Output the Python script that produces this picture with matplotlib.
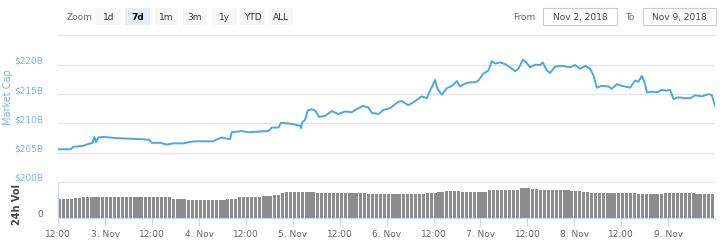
import matplotlib
matplotlib.use("Agg")
import matplotlib.pyplot as plt
from matplotlib.patches import Rectangle

plt.rcParams['font.family'] = ['DejaVu Sans']

# ---- data (hours since Nov 2, 12:00) ----
mc_hours = [0, 3.17, 3.84, 6.40, 7.68, 8.80, 9.21, 9.65, 10.24, 11.52, 14.94, 18.35, 21.75, 23.29,
            23.90, 26.02, 27.74, 29.43, 31.99, 34.55, 37.98, 39.67, 40.94, 41.81, 43.94, 44.37,
            46.93, 48.62, 51.18, 53.74, 54.61, 56.30, 56.99, 58.86, 60.57, 61.85, 62.11, 62.44,
            63.13, 63.82, 64.84, 65.69, 66.71, 68.25, 69.96, 71.65, 73.37, 75.08, 76.36, 78.05,
            79.33, 80.20, 81.89, 83.17, 84.88, 87.01, 87.88, 89.57, 90.84, 92.12, 92.99, 94.27,
            95.12, 96.40, 96.99, 98.11, 99.39, 100.67, 101.95, 102.79, 104.07, 105.35, 106.63,
            107.48, 108.76, 110.04, 110.91, 111.75, 113.03, 114.31, 115.59, 116.87, 117.71,
            118.84, 119.86, 120.71, 121.99, 123.27, 123.96, 124.98, 125.82, 127.10, 128.81,
            130.94, 132.22, 133.50, 134.78, 136.06, 136.90, 137.77, 139.05, 140.74, 141.61,
            142.89, 144.17, 146.29, 147.57, 148.42, 149.29, 150.13, 150.57, 151.85, 153.13,
            154.41, 155.69, 156.53, 157.38, 158.65, 160.37, 161.65, 162.93, 164.64, 166.33,
            167.20, 168.0]
mc_values = [205.6, 205.6, 206.0, 206.2, 206.5, 206.7, 207.7, 206.8, 207.6, 207.7, 207.5, 207.4,
             207.3, 207.2, 206.7, 206.7, 206.4, 206.6, 206.6, 206.95, 206.95, 206.95, 207.4,
             207.6, 207.3, 208.5, 208.7, 208.5, 208.6, 208.7, 209.3, 209.3, 210.1, 210.0, 209.8,
             209.6, 209.2, 210.2, 210.6, 212.2, 212.4, 212.2, 211.1, 211.3, 212.1, 211.6, 212.05,
             211.9, 212.45, 213.0, 212.7, 211.8, 211.6, 212.3, 212.6, 213.7, 213.8, 213.1, 213.6,
             214.2, 214.6, 214.3, 215.6, 217.4, 215.9, 214.9, 216.0, 216.4, 217.2, 216.3, 216.8,
             217.0, 217.0, 217.3, 218.5, 219.0, 220.6, 220.2, 220.4, 220.1, 219.55, 218.9, 219.3,
             220.85, 220.3, 219.55, 220.0, 219.95, 220.4, 219.0, 218.6, 219.7, 219.8, 219.55,
             219.95, 219.3, 219.8, 219.3, 218.2, 216.1, 216.4, 216.3, 215.9, 216.7, 216.4, 216.1,
             217.3, 217.1, 218.1, 216.7, 215.3, 215.4, 215.3, 215.7, 215.6, 215.7, 214.15,
             214.45, 214.3, 214.3, 214.8, 214.6, 215.0, 214.8, 213.0]

# 24h volume (billions), hourly bars
vol_day1 = [105, 105, 105, 105, 111, 111, 116, 116, 116, 116, 117, 117, 116, 116, 116, 116, 116, 116, 116, 116, 115, 115, 115, 115]
vol_day2 = [115, 115, 115, 115, 114, 105, 105, 105, 105, 102, 102, 102, 102, 102, 102, 102, 102, 102, 102, 107, 107, 107, 115, 115]
vol_day3 = [115, 115, 118, 118, 120, 121, 122, 127, 127, 140, 142, 142, 142, 142, 142, 142, 141, 141, 140, 139, 139, 137, 137, 137]
vol_day4 = [138, 138, 138, 138, 138, 138, 137, 134, 134, 131, 131, 131, 131, 131, 131, 131, 131, 131, 131, 131, 134, 134, 138, 138]
vol_day5 = [138, 142, 142, 147, 147, 147, 147, 145, 145, 145, 145, 145, 145, 145, 156, 156, 156, 156, 156, 156, 156, 156, 163, 163]
vol_day6 = [163, 162, 162, 153, 153, 153, 152, 152, 152, 152, 152, 151, 151, 151, 146, 146, 140, 140, 140, 140, 140, 140, 140, 140]
vol_day7 = [137, 137, 137, 137, 134, 134, 134, 134, 134, 134, 134, 137, 137, 137, 137, 137, 140, 140, 140, 134, 134, 134, 134, 134]
vol_values = vol_day1 + vol_day2 + vol_day3 + vol_day4 + vol_day5 + vol_day6 + vol_day7
vol_hours = list(range(len(vol_values)))

tick_hours = list(range(0, 157, 12))
tick_labels = ['12:00', '3. Nov', '12:00', '4. Nov', '12:00', '5. Nov', '12:00', '6. Nov',
               '12:00', '7. Nov', '12:00', '8. Nov', '12:00', '9. Nov']
mc_ticks = [205, 210, 215, 220]
mc_tick_labels = ['$205B', '$210B', '$215B', '$220B']

zoom_buttons = ['1d', '7d', '1m', '3m', '1y', 'YTD', 'ALL']
from_date = 'Nov 2, 2018'
to_date = 'Nov 9, 2018'

# ---- figure ----
W, H = 720, 253
fig = plt.figure(figsize=(W / 100, H / 100), dpi=100)
fig.patch.set_facecolor('white')

def fx(px):
    return px / W

def fy(py):
    return 1 - py / H

LINE = '#4aa8e4'
LBL_BLUE = '#7cb5ec'
GRID = '#e6e6e6'
AXBLUE = '#ccd6eb'
GRAYTXT = '#666666'

left_px, right_px = 58.3, 715.0
span = right_px - left_px
ax = fig.add_axes([fx(left_px), fy(160), fx(span), (160 - 45) / H])
ax.plot(mc_hours, mc_values, color=LINE, lw=1.4, solid_joinstyle='round')
ax.set_xlim(0, 168)
ax.set_ylim(203.94, 223.53)
ax.set_yticks(mc_ticks)
ax.set_yticklabels(mc_tick_labels)
ax.grid(axis='y', color=GRID, lw=1.0)
ax.set_axisbelow(True)
for s in ax.spines.values():
    s.set_visible(False)
ax.tick_params(axis='y', length=0, pad=11, labelsize=6.5, labelcolor=LBL_BLUE)
for t in ax.get_yticklabels():
    t.set_va('bottom')
ax.set_xticks([])
ax.set_ylabel('Market Cap', color=LBL_BLUE, fontsize=7)
ax.yaxis.label.set_va('center')
ax.yaxis.set_label_coords(-(left_px - 8) / span, 0.55)

axv = fig.add_axes([fx(left_px), fy(219.3), fx(span), 36.6 / H])
axv.bar(vol_hours, vol_values, width=0.78, align='edge', color='#8c8c8c', edgecolor='none')
axv.set_xlim(0, 168)
axv.set_ylim(0, 200)
axv.set_yticks([0, 200])
axv.set_yticklabels(['0', '$200B'])
axv.spines['right'].set_visible(False)
axv.spines['top'].set_color(GRID)
axv.spines['left'].set_color(AXBLUE)
axv.spines['bottom'].set_color(AXBLUE)
axv.tick_params(axis='y', length=0, pad=11, labelsize=6.5)
ylabs = axv.get_yticklabels()
ylabs[0].set_color(GRAYTXT)
ylabs[1].set_color(LBL_BLUE)
for t in ylabs:
    t.set_va('bottom')
axv.set_xticks(tick_hours)
axv.set_xticklabels(tick_labels)
axv.tick_params(axis='x', length=6, color=AXBLUE, labelsize=6.5, labelcolor=GRAYTXT, pad=2)
axv.set_ylabel('24h Vol', color='#444444', fontsize=7, fontweight='bold')
axv.yaxis.label.set_va('center')
axv.yaxis.set_label_coords(-(left_px - 17) / span, 0.4)

# ---- toolbar overlay (pixel coordinates) ----
ov = fig.add_axes([0, 0, 1, 1])
ov.set_xlim(0, W)
ov.set_ylim(H, 0)
ov.axis('off')
ov.text(67, 17.5, 'Zoom', fontsize=6.5, color=GRAYTXT, va='center', ha='left')
btn_x = [96, 125, 155, 183, 212, 240, 269]
btn_w = [25, 25, 23, 24, 25, 25, 24]
for lab, bx, bw in zip(zoom_buttons, btn_x, btn_w):
    sel = (lab == '7d')
    ov.add_patch(Rectangle((bx, 9.3), bw, 16.7, facecolor='#e6ebf5' if sel else '#f7f7f7',
                           edgecolor='none'))
    ov.text(bx + bw / 2, 17.5, lab, fontsize=6.5, color='#000000' if sel else '#333333',
            fontweight='bold' if sel else 'normal', ha='center', va='center')
ov.text(513, 17.5, 'From', fontsize=6.5, color=GRAYTXT, va='center', ha='left')
ov.add_patch(Rectangle((543, 9.3), 74, 16.7, facecolor='white', edgecolor='#cccccc', lw=0.8))
ov.text(580, 17.5, from_date, fontsize=6.5, color='#444444', ha='center', va='center')
ov.text(625, 17.5, 'To', fontsize=6.5, color=GRAYTXT, va='center', ha='left')
ov.add_patch(Rectangle((643, 9.3), 73, 16.7, facecolor='white', edgecolor='#cccccc', lw=0.8))
ov.text(679.5, 17.5, to_date, fontsize=6.5, color='#444444', ha='center', va='center')
ov.plot([58, 716], [36, 36], color='#e6e6e6', lw=1.0)

fig.savefig('out.png', dpi=100, facecolor='white')
